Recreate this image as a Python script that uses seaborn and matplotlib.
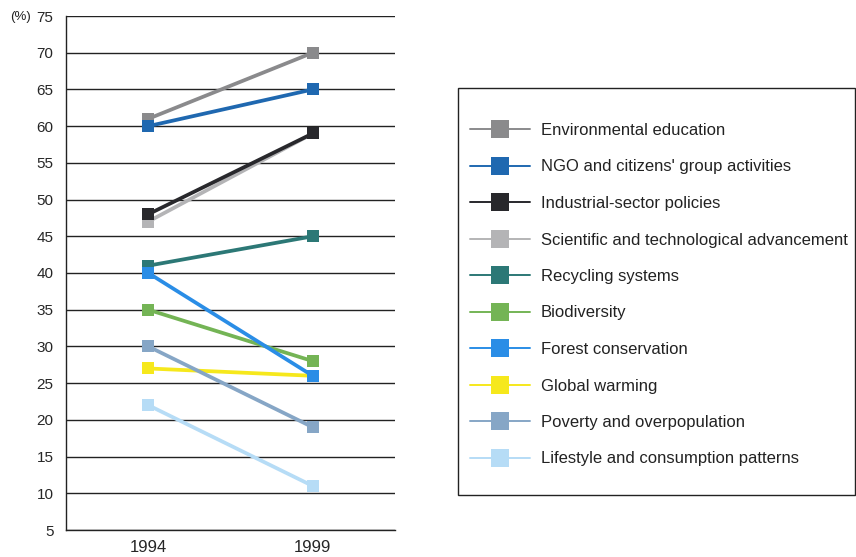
import pandas as pd
import matplotlib.pyplot as plt
from matplotlib.lines import Line2D
from matplotlib.patches import Rectangle
import seaborn as sns

# data
years = [1994, 1999]
items = ['Environmental education', "NGO and citizens' group activities",
         'Industrial-sector policies', 'Scientific and technological advancement',
         'Recycling systems', 'Biodiversity', 'Forest conservation',
         'Global warming', 'Poverty and overpopulation',
         'Lifestyle and consumption patterns']
vals_1994 = [61, 60, 48, 47, 41, 35, 40, 27, 30, 22]
vals_1999 = [70, 65, 59, 59, 45, 28, 26, 26, 19, 11]
colors = ['#8a8a8c', '#1f68b0', '#28282c', '#b4b4b6', '#2c7876',
          '#74b455', '#2a8de6', '#f6e81c', '#86a6c6', '#b6dcf6']
yticks = list(range(5, 80, 5))

rows = []
for name, a, b in zip(items, vals_1994, vals_1999):
    rows.append({'year': years[0], 'value': a, 'item': name})
    rows.append({'year': years[1], 'value': b, 'item': name})
df = pd.DataFrame(rows)

sns.set_style('white')
plt.rcParams['font.family'] = ['Liberation Sans', 'DejaVu Sans']

fig = plt.figure(figsize=(8.56, 5.57), dpi=100)
ax = fig.add_axes([66 / 856, 1 - 530 / 557, 329 / 856, 514 / 557])

sns.lineplot(data=df, x='year', y='value', hue='item', hue_order=items,
             palette=dict(zip(items, colors)), marker='s', markersize=9,
             markeredgewidth=0, linewidth=2.7, legend=False, ax=ax)

# stacking as in the original: light grey under black, forest over yellow
ax.lines[3].set_zorder(1.9)
ax.lines[6].set_zorder(2.2)

ax.set_ylim(5, 75)
ax.set_xlim(years[0] - 2.5, years[1] + 2.5)
ax.set_yticks(yticks)
ax.set_xticks(years)
ax.set_xticklabels([str(y) for y in years], fontsize=12)
ax.tick_params(axis='y', labelsize=11, length=0, pad=9)
ax.tick_params(axis='x', length=0, pad=7)
ax.set_xlabel('')
ax.set_ylabel('')
ax.grid(axis='y', color='#222222', linewidth=1.0)
ax.set_axisbelow(True)
for side in ['top', 'right']:
    ax.spines[side].set_visible(False)
for side in ['left', 'bottom']:
    ax.spines[side].set_color('#222222')
    ax.spines[side].set_linewidth(1.0)

fig.text(10 / 856, 1 - 17 / 557, '(%)', fontsize=9.5, va='center', ha='left',
         color='#222222')

# legend box drawn separately so the padding can match the original
fig.patches.append(Rectangle((458 / 856, 1 - 495 / 557), 397 / 856, 407 / 557,
                             transform=fig.transFigure, fill=False,
                             edgecolor='#222222', linewidth=1.0))

handles = [Line2D([0], [0], color=c, linewidth=1.4, marker='s', markersize=12.5,
                  markeredgewidth=0) for c in colors]
leg = fig.legend(handles, items, loc='upper left',
                 bbox_to_anchor=(470 / 856, 1 - 123 / 557),
                 borderaxespad=0, borderpad=0, fontsize=12,
                 handlelength=3.6, handletextpad=0.65, labelspacing=1.29,
                 frameon=False)
for t in leg.get_texts():
    t.set_color('#222222')

fig.savefig('out.png', dpi=100)
